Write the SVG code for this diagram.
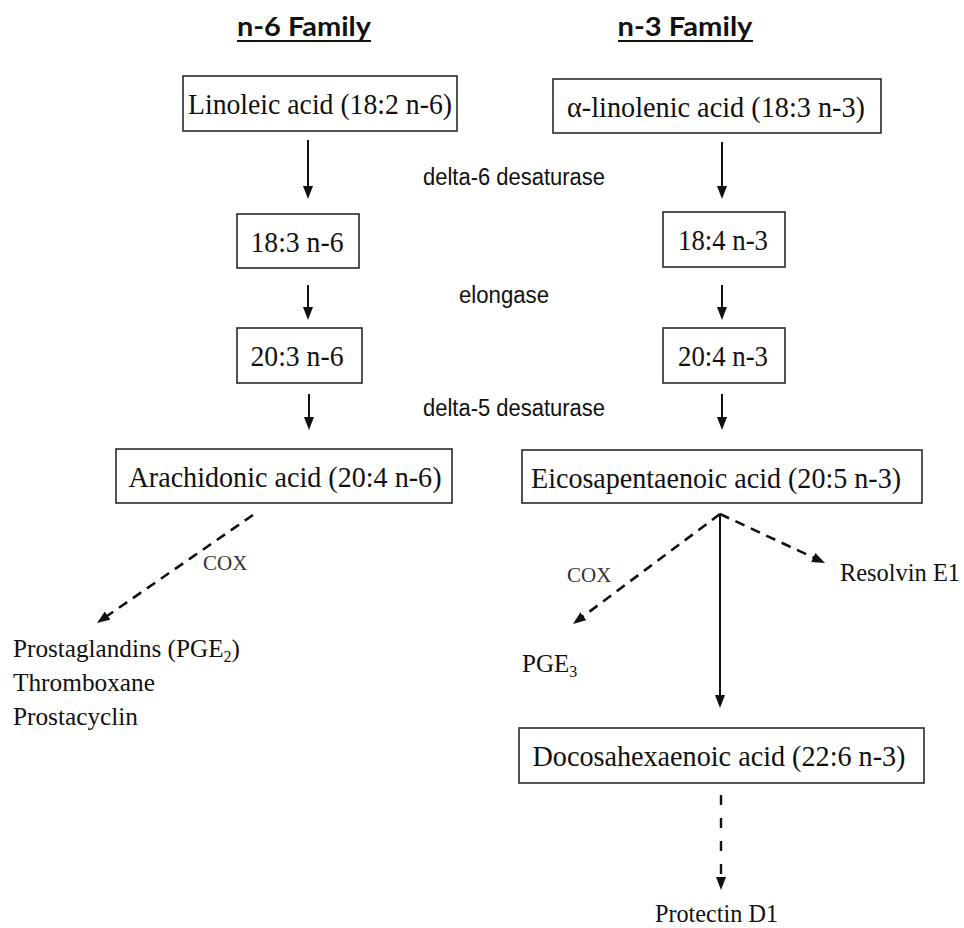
<svg xmlns="http://www.w3.org/2000/svg" width="964" height="928" viewBox="0 0 964 928">
<style>
.bg{fill:#fff}
.box{fill:#fff;stroke:#2a2a2a;stroke-width:1.6}
.bt{font-family:"Liberation Serif","Times New Roman",serif;font-size:30px;fill:#111;text-anchor:middle}
.ttl{font-family:"Lato","Liberation Sans",sans-serif;font-weight:bold;font-size:26px;fill:#111;text-anchor:middle}
.ul{stroke:#111;stroke-width:2}
.enz{font-family:"Liberation Sans",Arial,sans-serif;font-size:23px;fill:#111;text-anchor:middle}
.cox{font-family:"Liberation Serif","Times New Roman",serif;font-size:21px;fill:#333}
.prod{font-family:"Liberation Serif","Times New Roman",serif;font-size:25px;fill:#111}
.sol{stroke:#111;stroke-width:2;fill:none}
.dash{stroke:#111;stroke-width:2.6;fill:none;stroke-dasharray:10 7}
.dash2{stroke:#111;stroke-width:2.4;fill:none;stroke-dasharray:10 13}
</style>
<defs>
<marker id="ah" viewBox="0 0 13 10" refX="9" refY="5" markerWidth="13" markerHeight="10" markerUnits="userSpaceOnUse" orient="auto">
<path d="M0,0 L13,5 L0,10 z" fill="#111" stroke="none"/>
</marker>
</defs>
<rect class="bg" x="0" y="0" width="964" height="928"/>

<g id="title-n6">
<text class="ttl" x="304" y="36" textLength="134" lengthAdjust="spacingAndGlyphs">n-6 Family</text>
<line class="ul" x1="237" y1="41" x2="371" y2="41"/>
</g>
<g id="title-n3">
<text class="ttl" x="685" y="36" textLength="135" lengthAdjust="spacingAndGlyphs">n-3 Family</text>
<line class="ul" x1="618" y1="41" x2="753" y2="41"/>
</g>

<g id="linoleic">
<rect class="box" x="183" y="76" width="274" height="55"/>
<text class="bt" x="320" y="114" textLength="264" lengthAdjust="spacingAndGlyphs">Linoleic acid (18:2 n-6)</text>
</g>
<g id="alpha-linolenic">
<rect class="box" x="553" y="79" width="328" height="54"/>
<text class="bt" x="716" y="117" textLength="298" lengthAdjust="spacingAndGlyphs">α-linolenic acid (18:3 n-3)</text>
</g>
<g id="n6-183">
<rect class="box" x="237" y="214" width="122" height="54"/>
<text class="bt" x="297" y="252" textLength="93" lengthAdjust="spacingAndGlyphs">18:3 n-6</text>
</g>
<g id="n3-184">
<rect class="box" x="663" y="212" width="122" height="55"/>
<text class="bt" x="723" y="250" textLength="90" lengthAdjust="spacingAndGlyphs">18:4 n-3</text>
</g>
<g id="n6-203">
<rect class="box" x="237" y="328" width="125" height="55"/>
<text class="bt" x="297" y="366" textLength="93" lengthAdjust="spacingAndGlyphs">20:3 n-6</text>
</g>
<g id="n3-204">
<rect class="box" x="663" y="328" width="122" height="55"/>
<text class="bt" x="723" y="366" textLength="90" lengthAdjust="spacingAndGlyphs">20:4 n-3</text>
</g>
<g id="arachidonic">
<rect class="box" x="116" y="449" width="336" height="54"/>
<text class="bt" x="285" y="487" textLength="313" lengthAdjust="spacingAndGlyphs">Arachidonic acid (20:4 n-6)</text>
</g>
<g id="epa">
<rect class="box" x="522" y="450" width="400" height="53"/>
<text class="bt" x="716" y="488" textLength="370" lengthAdjust="spacingAndGlyphs">Eicosapentaenoic acid (20:5 n-3)</text>
</g>
<g id="dha">
<rect class="box" x="519" y="728" width="405" height="55"/>
<text class="bt" x="719" y="766" textLength="373" lengthAdjust="spacingAndGlyphs">Docosahexaenoic acid (22:6 n-3)</text>
</g>

<g id="enzyme-labels">
<text class="enz" x="514" y="185" textLength="182" lengthAdjust="spacingAndGlyphs">delta-6 desaturase</text>
<text class="enz" x="504" y="303" textLength="90" lengthAdjust="spacingAndGlyphs">elongase</text>
<text class="enz" x="514" y="416" textLength="182" lengthAdjust="spacingAndGlyphs">delta-5 desaturase</text>
</g>

<g id="n6-products">
<text class="prod" x="13" y="657" textLength="227" lengthAdjust="spacingAndGlyphs">Prostaglandins (PGE<tspan font-size="16" dy="5">2</tspan><tspan dy="-5">)</tspan></text>
<text class="prod" x="13" y="691" textLength="142" lengthAdjust="spacingAndGlyphs">Thromboxane</text>
<text class="prod" x="13" y="725" textLength="125" lengthAdjust="spacingAndGlyphs">Prostacyclin</text>
</g>
<g id="pge3">
<text class="prod" x="522" y="672">PGE<tspan font-size="16" dy="5">3</tspan></text>
</g>
<g id="resolvin">
<text class="prod" x="840" y="581" textLength="120" lengthAdjust="spacingAndGlyphs">Resolvin E1</text>
</g>
<g id="protectin">
<text class="prod" x="655" y="922" textLength="123" lengthAdjust="spacingAndGlyphs">Protectin D1</text>
</g>

<g id="connectors">
<line class="sol" x1="308" y1="140" x2="308" y2="195" marker-end="url(#ah)"/>
<line class="sol" x1="722" y1="142" x2="722" y2="195" marker-end="url(#ah)"/>
<line class="sol" x1="308" y1="285" x2="308" y2="316" marker-end="url(#ah)"/>
<line class="sol" x1="722" y1="285" x2="722" y2="316" marker-end="url(#ah)"/>
<line class="sol" x1="309" y1="394" x2="309" y2="426" marker-end="url(#ah)"/>
<line class="sol" x1="722" y1="394" x2="722" y2="426" marker-end="url(#ah)"/>
<line class="dash" x1="253" y1="515" x2="100.3" y2="620.7" marker-end="url(#ah)"/>
<line class="dash" x1="720" y1="514" x2="576.2" y2="621.6" marker-end="url(#ah)"/>
<line class="dash" x1="720" y1="514" x2="821.4" y2="561.3" marker-end="url(#ah)"/>
<line class="sol" x1="720" y1="514" x2="720" y2="704" marker-end="url(#ah)"/>
<line class="dash2" x1="721" y1="795" x2="721" y2="886" marker-end="url(#ah)"/>
<text class="cox" x="203" y="570">COX</text>
<text class="cox" x="567" y="582">COX</text>
</g>
</svg>
